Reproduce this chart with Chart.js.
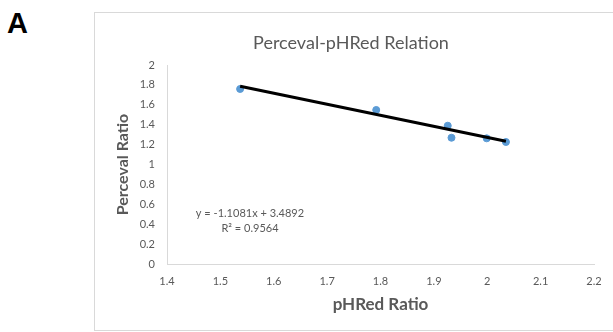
<!DOCTYPE html>
<html><head><meta charset="utf-8">
<script src="https://cdn.jsdelivr.net/npm/chart.js@4/dist/chart.umd.min.js"></script>
<style>
html,body{margin:0;padding:0;background:#fff;}
#wrap{position:relative;width:613px;height:332px;overflow:hidden;}
#panel{position:absolute;left:7px;top:8.5px;font:bold 29px "Liberation Sans",Arial,sans-serif;color:#000;line-height:29px;}
#frame{position:absolute;left:94px;top:12px;width:540px;height:319px;border:1px solid #d9d9d9;box-sizing:border-box;}
#c{position:absolute;left:0;top:0;}
</style></head>
<body><div id="wrap"><div id="frame"></div><div id="panel">A</div><canvas id="c" width="613" height="332"></canvas></div>
<script>
const chartTitle = "Perceval-pHRed Relation";
const xTitle = "pHRed Ratio";
const yTitle = "Perceval Ratio";
const pHRedRatio = [1.537, 1.792, 1.926, 1.933, 1.999, 2.035];
const percevalRatio = [1.759, 1.548, 1.390, 1.269, 1.263, 1.226];
const slope = -1.1081;
const intercept = 3.4892;
const equationLines = ["y = -1.1081x + 3.4892", "R\u00B2 = 0.9564"];
const xTicks = [1.4, 1.5, 1.6, 1.7, 1.8, 1.9, 2, 2.1, 2.2];
const yTicks = [0, 0.2, 0.4, 0.6, 0.8, 1, 1.2, 1.4, 1.6, 1.8, 2];

const FONT = "Lato, 'Open Sans', sans-serif";
const GREY = "#595959";

const points = pHRedRatio.map((x, i) => ({x, y: percevalRatio[i]}));
const xMin = Math.min(...pHRedRatio), xMax = Math.max(...pHRedRatio);
const trend = [{x: xMin, y: slope * xMin + intercept}, {x: xMax, y: slope * xMax + intercept}];

const eqPlugin = {
  id: 'eq',
  afterDatasetsDraw(chart) {
    const ctx = chart.ctx;
    ctx.save();
    ctx.fillStyle = GREY;
    ctx.font = "11px " + FONT;
    ctx.textAlign = 'center';
    ctx.textBaseline = 'middle';
    ctx.fillText(equationLines[0], 250, 213);
    ctx.fillText(equationLines[1], 250, 228);
    ctx.restore();
  }
};

new Chart(document.getElementById('c'), {
  type: 'scatter',
  data: {
    datasets: [
      {label: 'trend', type: 'line', data: trend, borderColor: '#000', borderWidth: 3, pointRadius: 0, fill: false, order: 0},
      {label: 'data', data: points, backgroundColor: '#5b9bd5', borderColor: '#5b9bd5', pointRadius: 3.5, order: 1}
    ]
  },
  options: {
    responsive: false,
    animation: false,
    layout: {padding: {top: 22, right: 19, left: 108, bottom: 0}},
    plugins: {
      legend: {display: false},
      tooltip: {enabled: false},
      title: {display: true, text: chartTitle, color: GREY, font: {family: FONT, size: 18, weight: 'normal'}, padding: {top: 10, bottom: 11.4}}
    },
    scales: {
      x: {
        type: 'linear', min: 1.4, max: 2.2,
        afterBuildTicks(s) { s.ticks = xTicks.map(v => ({value: v})); },
        afterFit(s) { s.height = 68; },
        grid: {display: true, drawOnChartArea: false, drawTicks: false, color: '#d9d9d9'},
        border: {color: '#d9d9d9'},
        ticks: {color: GREY, font: {family: FONT, size: 11}, padding: 11, maxRotation: 0, callback: v => String(v)},
        title: {display: true, text: xTitle, color: GREY, font: {family: FONT, size: 17, weight: 'bold'}, padding: {top: 0, bottom: 17}}
      },
      y: {
        type: 'linear', min: 0, max: 2,
        afterBuildTicks(s) { s.ticks = yTicks.map(v => ({value: v})); },
        afterFit(s) { s.width = 59; },
        grid: {display: true, drawOnChartArea: false, drawTicks: false, color: '#d9d9d9'},
        border: {color: '#d9d9d9'},
        ticks: {color: GREY, font: {family: FONT, size: 11}, padding: 12, callback: v => String(v)},
        title: {display: true, text: yTitle, color: GREY, font: {family: FONT, size: 16, weight: 'bold'}, padding: {top: 5, bottom: 0}}
      }
    }
  },
  plugins: [eqPlugin]
});
</script></body></html>
